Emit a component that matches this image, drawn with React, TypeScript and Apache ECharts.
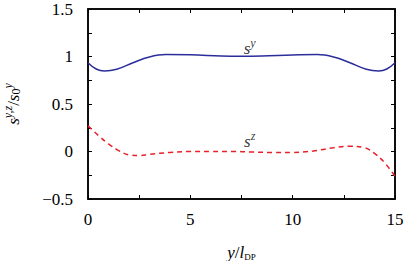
import React, { useEffect, useRef } from "react";
import * as echarts from "echarts";

const syX = [0, 0.4, 0.8, 1.4, 2.2, 3.0, 3.8, 5, 6.5, 7.5, 8.5, 10, 11.2, 12.0, 12.8, 13.6, 14.2, 14.6, 15];
const syY = [0.935, 0.868, 0.847, 0.865, 0.935, 0.995, 1.02, 1.018, 1.005, 1.002, 1.005, 1.016, 1.02, 0.995, 0.935, 0.865, 0.847, 0.868, 0.935];

const szX = [0, 0.5, 1, 1.5, 2, 2.5, 3, 4, 5, 6, 7, 8, 9, 10, 11, 12, 12.8, 13.5, 14, 14.5, 15];
const szY = [0.27, 0.17, 0.08, 0.01, -0.035, -0.042, -0.03, -0.01, 0.0, 0.0, 0.0, -0.005, -0.01, -0.01, 0.005, 0.04, 0.055, 0.04, -0.02, -0.12, -0.26];

const xLabels = [0, 5, 10, 15];
const yLabels = [-0.5, 0, 0.5, 1, 1.5];

const labelSy = [7.9, 1.1];
const labelSz = [7.9, 0.12];

const FONT = "Liberation Serif";

export default function App() {
  const ref = useRef<HTMLDivElement>(null);
  useEffect(() => {
    const chart = echarts.init(ref.current!, null, { renderer: "svg" });
    const rich = {
      b: { fontFamily: FONT, fontStyle: "italic", fontSize: 17, color: "#000", verticalAlign: "bottom", lineHeight: 20 },
      t: { fontFamily: FONT, fontStyle: "italic", fontSize: 12, color: "#000", verticalAlign: "top", lineHeight: 20, padding: [0, 0, 8, 0] },
      d: { fontFamily: FONT, fontSize: 12, color: "#000", verticalAlign: "bottom", lineHeight: 20, padding: [8, 0, 0, 0] },
      n: { fontFamily: FONT, fontSize: 17, color: "#000", verticalAlign: "bottom", lineHeight: 20 },
      sc: { fontFamily: FONT, fontSize: 9, color: "#000", verticalAlign: "bottom", lineHeight: 20 },
    };
    const fmtX = (v: number) => (xLabels.includes(v) ? String(v) : "");
    const fmtY = (v: number) => {
      const r = Math.round(v * 100) / 100;
      if (!yLabels.includes(r)) return "";
      return r < 0 ? "\u2212" + String(-r) : String(r);
    };
    const axisCommon = {
      axisLine: { show: true, onZero: false, lineStyle: { color: "#000", width: 1.5 } },
      axisTick: { show: true, inside: true, length: 4, lineStyle: { color: "#000", width: 1 } },
      splitLine: { show: false },
    };
    chart.setOption({
      animation: false,
      grid: {
        left: 88, right: 12, top: 9, bottom: 62, containLabel: false, outerBoundsMode: "none",
        show: true, borderColor: "#000", borderWidth: 1.5, backgroundColor: "transparent",
      },
      xAxis: [
        {
          type: "value", min: 0, max: 15, interval: 2.5, position: "bottom",
          ...axisCommon,
          axisLabel: { formatter: fmtX, fontFamily: FONT, fontSize: 17, color: "#000", margin: 12 },
          name: "{b|y}{n|/}{b|l}{sc|DP}",
          nameLocation: "middle", nameGap: 42,
          nameTextStyle: { rich },
        },
        {
          type: "value", min: 0, max: 15, interval: 2.5, position: "top",
          ...axisCommon, axisLabel: { show: false },
        },
      ],
      yAxis: [
        {
          type: "value", min: -0.5, max: 1.5, interval: 0.25, position: "left",
          ...axisCommon,
          axisLabel: { formatter: fmtY, fontFamily: FONT, fontSize: 17, color: "#000", margin: 15 },
          name: "{b|s}{t|y,z}{n|/}{b|s}{d|0}{t|y}",
          nameLocation: "middle", nameGap: 66, nameRotate: 90,
          nameTextStyle: { rich },
        },
        {
          type: "value", min: -0.5, max: 1.5, interval: 0.25, position: "right",
          ...axisCommon, axisLabel: { show: false },
        },
      ],
      series: [
        {
          type: "line", data: syX.map((x, i) => [x, syY[i]]), smooth: 0.4, showSymbol: false,
          lineStyle: { color: "#2b2e9a", width: 1.5 }, z: 3,
        },
        {
          type: "line", data: szX.map((x, i) => [x, szY[i]]), smooth: 0.4, showSymbol: false,
          lineStyle: { color: "#e8202a", width: 1.5, type: [5, 4] }, z: 3,
        },
        {
          type: "scatter", symbolSize: 0,
          data: [labelSy, labelSz],
          label: {
            show: true, position: "inside",
            formatter: (p: any) => (p.dataIndex === 0 ? "{b|s}{t|y}" : "{b|s}{t|z}"),
            rich,
          },
        },
      ],
    });
    return () => chart.dispose();
  }, []);
  return <div ref={ref} style={{ width: 407, height: 261, position: "absolute", left: 0, top: 0 }} />;
}
